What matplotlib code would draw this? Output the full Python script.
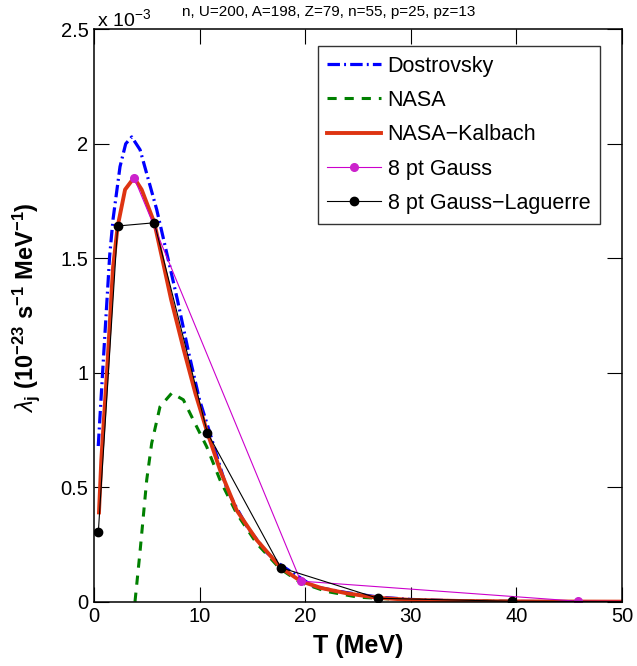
import matplotlib
matplotlib.use("Agg")
import matplotlib.pyplot as plt

plt.rcParams['font.family'] = ['Liberation Sans', 'DejaVu Sans']
plt.rcParams['mathtext.fontset'] = 'custom'
plt.rcParams['mathtext.rm'] = 'Liberation Sans'
plt.rcParams['mathtext.bf'] = 'Liberation Sans:bold'
plt.rcParams['mathtext.it'] = 'Liberation Sans:italic'

# ---- data (values in units of 1e-3) ----
dost_T = [0.4, 0.85, 1.48, 1.8, 2.46, 3.0, 3.57, 4.36, 5.94, 7.0, 7.89, 9.0, 10.0,
          10.98, 12.0, 12.6, 13.5, 14.46, 16.35, 17.7, 20.8, 23.9, 27, 30, 35, 40, 50]
dost_y = [0.68, 1.03, 1.51, 1.67, 1.90, 2.00, 2.03, 1.974, 1.712, 1.50, 1.32, 1.08, 0.88,
          0.736, 0.58, 0.49, 0.41, 0.33, 0.215, 0.16, 0.066, 0.04, 0.02, 0.01, 0.003, 0.001, 0.0]

nasa_T = [3.88, 4.36, 4.99, 5.46, 6.25, 7.36, 8.46, 9.4, 10.67, 11.93, 13.5, 15.4,
          17.6, 19.5, 22, 25, 30, 40, 50]
nasa_y = [0.0, 0.22, 0.532, 0.692, 0.852, 0.911, 0.882, 0.794, 0.677, 0.532, 0.386, 0.255,
          0.145, 0.085, 0.045, 0.02, 0.007, 0.001, 0.0]

nk_T = [0.47, 0.69, 1.26, 1.8, 2.24, 2.94, 3.79, 4.51, 5.71, 6.5, 7.3, 8.5, 9.6, 10.73,
        11.93, 13.5, 15.4, 17.68, 19.57, 21.5, 23.9, 26.9, 30, 35, 40, 45, 50]
nk_y = [0.39, 0.62, 1.03, 1.46, 1.64, 1.80, 1.852, 1.80, 1.655, 1.49, 1.32, 1.10, 0.91, 0.739,
        0.576, 0.40, 0.27, 0.149, 0.09, 0.06, 0.037, 0.017, 0.008, 0.003, 0.0015, 0.0008, 0.0004]

gauss_T = [3.79, 19.57, 45.87, 78.0]
gauss_y = [1.852, 0.09, 0.002, 0.0]

gl_T = [0.41, 2.24, 5.71, 10.73, 17.68, 26.9, 39.55, 57.0]
gl_y = [0.306, 1.641, 1.655, 0.739, 0.149, 0.015, 0.002, 0.0]

xticks = [0, 10, 20, 30, 40, 50]
yticks = [0, 0.5, 1, 1.5, 2, 2.5]
ytick_labels = ['0', '0.5', '1', '1.5', '2', '2.5']

title = 'n, U=200, A=198, Z=79, n=55, p=25, pz=13'

fig = plt.figure(figsize=(6.37, 6.66), dpi=100)
ax = fig.add_axes([0.1476, 0.0965, 0.8289, 0.8595])

ax.plot(dost_T, dost_y, color='#0000ff', lw=2.3, linestyle=(0, (3.9, 1.3, 0.6, 1.3)),
        label='Dostrovsky')
ax.plot(nasa_T, nasa_y, color='#008000', lw=2.2, linestyle=(0, (3.0, 2.6)), label='NASA')
ax.plot(nk_T, nk_y, color='#de3412', lw=2.8, label='NASA\u2212Kalbach')
ax.plot(gauss_T, gauss_y, color='#cc00cc', lw=0.8, marker='o', markersize=5.5,
        markerfacecolor='#cc22cc', markeredgecolor='#cc22cc', label='8 pt Gauss')
ax.plot(gl_T, gl_y, color='black', lw=0.8, marker='o', markersize=6,
        markerfacecolor='black', label='8 pt Gauss\u2212Laguerre')

ax.set_xlim(0, 50)
ax.set_ylim(0, 2.5)
ax.set_xticks(xticks)
ax.set_yticks(yticks)
ax.set_yticklabels(ytick_labels)
ax.tick_params(direction='in', length=10.5, width=0.8, labelsize=14.5,
               top=True, right=True, pad=4)
for s in ax.spines.values():
    s.set_linewidth(1.1)

ax.set_xlabel('T (MeV)', fontsize=18, fontweight='bold')
ax.xaxis.set_label_coords(0.5, -0.056, transform=ax.transAxes)
ax.xaxis.label.set_va('top')
ax.set_ylabel(r'$\lambda_{\mathbf{j}}$ $\mathbf{(10^{-23}\ s^{-1}\ MeV^{-1})}$',
              fontsize=17)
ax.yaxis.set_label_coords(-0.0985, 0.514, transform=ax.transAxes)

fig.text(97 / 637, 1 - 26 / 666, r'x 10$^{-3}$', fontsize=14, ha='left', va='baseline')
fig.text(329 / 637, 1 - 16 / 666, title, fontsize=11, ha='center', va='baseline')

leg = ax.legend(loc='upper right', bbox_to_anchor=(0.958, 0.971), borderaxespad=0,
                fontsize=15.5, frameon=True, fancybox=False, edgecolor='black',
                handlelength=2.5, handletextpad=0.3, labelspacing=0.62,
                borderpad=0.45)
leg.get_frame().set_linewidth(1.0)

fig.savefig('out.png', dpi=100)
